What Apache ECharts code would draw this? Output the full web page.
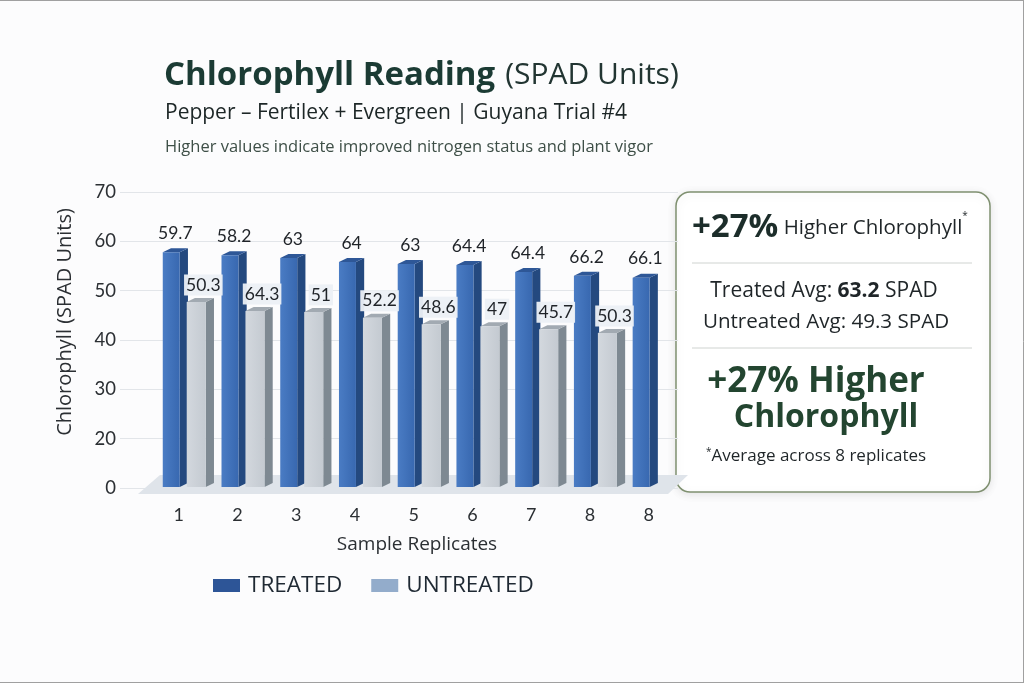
<!DOCTYPE html>
<html><head><meta charset="utf-8">
<script src="https://cdn.jsdelivr.net/npm/echarts@6/dist/echarts.min.js"></script>
<style>html,body{margin:0;padding:0;background:#fcfcfd;}#c{width:1024px;height:683px;}</style>
</head><body><div id="c"></div>
<script>
// ---- data ----
const categories = ['1','2','3','4','5','6','7','8','8'];
const treatedValues = [57.8, 57.2, 56.6, 55.8, 55.4, 55.2, 53.8, 53.0, 52.6];
const untreatedValues = [47.7, 45.9, 45.7, 44.5, 43.2, 42.8, 42.2, 41.4, null];
const treatedLabels = ['59.7','58.2','63','64','63','64.4','64.4','66.2','66.1'];
const untreatedLabels = ['50.3','64.3','51','52.2','48.6','47','45.7','50.3',''];
const yTickValues = [10, 20, 30, 40, 50, 60, 70];
const yTickLabels = ['0', '20', '30', '40', '50', '60', '70'];

const Y_MIN = 10, Y_MAX = 70;
const F = 'Lato, "Open Sans", sans-serif';
const FT = '"Open Sans", Lato, sans-serif';

function makeBar(kind) {
  const labels = kind === 't' ? treatedLabels : untreatedLabels;
  return function (params, api) {
    const i = api.value(0), v = api.value(1);
    if (v == null || isNaN(v)) return;
    const top = api.coord([i, v]);
    const base = api.coord([i, Y_MIN]);
    const band = api.size([1, 0])[0];
    const c = top[0];
    const f0 = kind === 't' ? -0.272 : 0.136;
    const f1 = kind === 't' ? 0.017 : 0.46;
    const x0 = c + f0 * band, x1 = c + f1 * band;
    const d = 0.14 * band, dy = 4;
    const yt = top[1], yb = base[1] - 1;
    const col = kind === 't'
      ? {f0: '#4a7cc4', f1: '#3868b0', side: '#24497f', top: '#2e5797'}
      : {f0: '#d3d8de', f1: '#c4cad1', side: '#7e8992', top: '#a2aab2'};
    const children = [
      {type: 'polygon', shape: {points: [[x1, yt], [x1 + d, yt - dy], [x1 + d, yb - dy], [x1, yb]]}, style: {fill: col.side}},
      {type: 'polygon', shape: {points: [[x0, yt], [x0 + d, yt - dy], [x1 + d, yt - dy], [x1, yt]]}, style: {fill: col.top}},
      {type: 'rect', shape: {x: x0, y: yt, width: x1 - x0, height: yb - yt},
        style: {fill: new echarts.graphic.LinearGradient(0, 0, 1, 0, [{offset: 0, color: col.f0}, {offset: 1, color: col.f1}])}}
    ];
    const txt = labels[params.dataIndex];
    if (txt) {
      if (kind === 't') {
        children.push({type: 'text', x: (x0 + x1 + d) / 2, y: yt - 19,
          style: {text: txt, font: '17.5px ' + F, fill: '#1f2328', align: 'center', verticalAlign: 'middle'}});
      } else {
        children.push({type: 'text', x: (x0 + x1 + d) / 2 + 3, y: yt - 17,
          style: {text: txt, font: '17.5px ' + F, fill: '#1f2328', align: 'center', verticalAlign: 'middle',
            backgroundColor: 'rgba(236,240,245,0.95)', padding: [2, 2, 1, 2]}});
      }
    }
    return {type: 'group', children: children};
  };
}

function floorRender(params, api) {
  const cs = params.coordSys;
  const base = cs.y + cs.height;
  const right = cs.x + cs.width;
  return {type: 'polygon', shape: {points: [
    [cs.x + 40, base - 13], [right + 10, base - 13], [right - 10, base + 6], [cs.x + 18, base + 6]
  ]}, style: {fill: '#dfe4ea'}};
}

const chart = echarts.init(document.getElementById('c'), null, {renderer: 'canvas'});
chart.setOption({
  backgroundColor: '#fcfcfd',
  animation: false,
  title: [
    {text: '{a|Chlorophyll Reading}  {b|(SPAD Units)}', left: 164, top: 59, padding: 0,
      textStyle: {rich: {
        a: {fontFamily: FT, fontWeight: 700, fontSize: 33, color: '#1b3b34'},
        b: {fontFamily: FT, fontWeight: 400, fontSize: 30, color: '#223532'}}}},
    {text: 'Pepper – Fertilex + Evergreen | Guyana Trial #4', left: 165, top: 103, padding: 0,
      textStyle: {fontFamily: FT, fontWeight: 500, fontSize: 21, color: '#1c2626'}},
    {text: 'Higher values indicate improved nitrogen status and plant vigor', left: 165, top: 139, padding: 0,
      textStyle: {fontFamily: FT, fontWeight: 400, fontSize: 16.5, color: '#3e4f47'}}
  ],
  legend: {
    left: 213, top: 574, padding: 0, icon: 'rect', itemWidth: 27, itemHeight: 13, itemGap: 29,
    textStyle: {fontFamily: FT, fontSize: 22.5, color: '#1f2933', padding: [0, 0, 0, 3]},
    data: [{name: 'TREATED', itemStyle: {color: '#2d5597'}}, {name: 'UNTREATED', itemStyle: {color: '#93accb'}}]
  },
  grid: {left: 120, top: 192, width: 558, height: 296},
  xAxis: {
    type: 'value', min: -1, max: 8.5, interval: 1,
    axisLine: {show: false}, axisTick: {show: false}, splitLine: {show: false},
    axisLabel: {margin: 18, fontFamily: F, fontSize: 18, color: '#2b2f33',
      formatter: v => (Number.isInteger(v) && v >= 0 && v < categories.length) ? categories[v] : ''},
    name: 'Sample Replicates', nameLocation: 'middle', nameGap: 47,
    nameTextStyle: {fontFamily: FT, fontSize: 19, color: '#2b2f33', padding: [0, 0, 0, 36]}
  },
  yAxis: {
    type: 'value', min: Y_MIN, max: Y_MAX, interval: 10,
    axisLine: {show: false}, axisTick: {show: false},
    splitLine: {lineStyle: {color: '#e2e5e9', width: 1}},
    axisLabel: {margin: 4, fontFamily: F, fontSize: 18.5, color: '#2b2f33',
      formatter: v => { const k = yTickValues.indexOf(v); return k >= 0 ? yTickLabels[k] : ''; }}
  },
  graphic: [
    {type: 'line', shape: {x1: 0, y1: 0.5, x2: 1024, y2: 0.5}, style: {stroke: '#a0a0a0', lineWidth: 1}},
    {type: 'line', shape: {x1: 1023.5, y1: 0, x2: 1023.5, y2: 683}, style: {stroke: '#a0a0a0', lineWidth: 1}},
    {type: 'line', shape: {x1: 0, y1: 682.5, x2: 1024, y2: 682.5}, style: {stroke: '#a0a0a0', lineWidth: 1}},
    {type: 'text', x: 65, y: 322, rotation: Math.PI / 2,
      style: {text: 'Chlorophyll (SPAD Units)', font: '20px ' + FT, fill: '#2b2f33', align: 'center', verticalAlign: 'middle'}},
    {type: 'group', z: 100, children: [
      {type: 'rect', shape: {x: 676, y: 192, width: 314, height: 300, r: 14},
        style: {fill: '#ffffff', stroke: '#7f9070', lineWidth: 1.5, shadowBlur: 10, shadowColor: 'rgba(0,0,0,0.10)', shadowOffsetY: 2}},
      {type: 'text', x: 692, y: 228,
        style: {text: '{a|+27%}{b| Higher Chlorophyll}{c|*}', verticalAlign: 'middle', rich: {
          a: {fontFamily: FT, fontWeight: 700, fontSize: 33, fill: '#1c2d2a'},
          b: {fontFamily: FT, fontSize: 20.5, fill: '#1f2528'},
          c: {fontFamily: FT, fontSize: 10, fill: '#1f2528', verticalAlign: 'top', padding: [0, 0, 8, 0]}}}},
      {type: 'line', shape: {x1: 692, y1: 263, x2: 972, y2: 263}, style: {stroke: '#cfd3d0', lineWidth: 1}},
      {type: 'text', x: 824, y: 291,
        style: {text: '{r|Treated Avg: }{b|63.2}{r| SPAD}', align: 'center', verticalAlign: 'middle', rich: {
          r: {fontFamily: FT, fontSize: 21, fill: '#1f2528'},
          b: {fontFamily: FT, fontWeight: 700, fontSize: 21, fill: '#1f2528'}}}},
      {type: 'text', x: 826, y: 322,
        style: {text: 'Untreated Avg: 49.3 SPAD', align: 'center', verticalAlign: 'middle', font: '20.6px ' + FT, fill: '#1f2528'}},
      {type: 'line', shape: {x1: 692, y1: 348, x2: 972, y2: 348}, style: {stroke: '#cfd3d0', lineWidth: 1}},
      {type: 'text', x: 816, y: 382,
        style: {text: '+27% Higher', align: 'center', verticalAlign: 'middle', font: '700 35px ' + FT, fill: '#234530'}},
      {type: 'text', x: 826, y: 418,
        style: {text: 'Chlorophyll', align: 'center', verticalAlign: 'middle', font: '700 32px ' + FT, fill: '#234530'}},
      {type: 'text', x: 706, y: 456,
        style: {text: '{c|*}{r|Average across 8 replicates}', verticalAlign: 'middle', rich: {
          c: {fontFamily: FT, fontSize: 10, fill: '#1f2528', verticalAlign: 'top', padding: [0, 0, 7, 0]},
          r: {fontFamily: FT, fontSize: 17, fill: '#1f2528'}}}}
    ]}
  ],
  series: [
    {type: 'custom', name: 'floor', silent: true, z: 1, renderItem: floorRender, data: [[0, Y_MIN]], legendHoverLink: false},
    {type: 'custom', name: 'TREATED', z: 2, renderItem: makeBar('t'), itemStyle: {color: '#2d5597'},
      data: treatedValues.map((v, i) => [i, v])},
    {type: 'custom', name: 'UNTREATED', z: 3, renderItem: makeBar('u'), itemStyle: {color: '#93accb'},
      data: untreatedValues.map((v, i) => [i, v])}
  ]
});
</script></body></html>
